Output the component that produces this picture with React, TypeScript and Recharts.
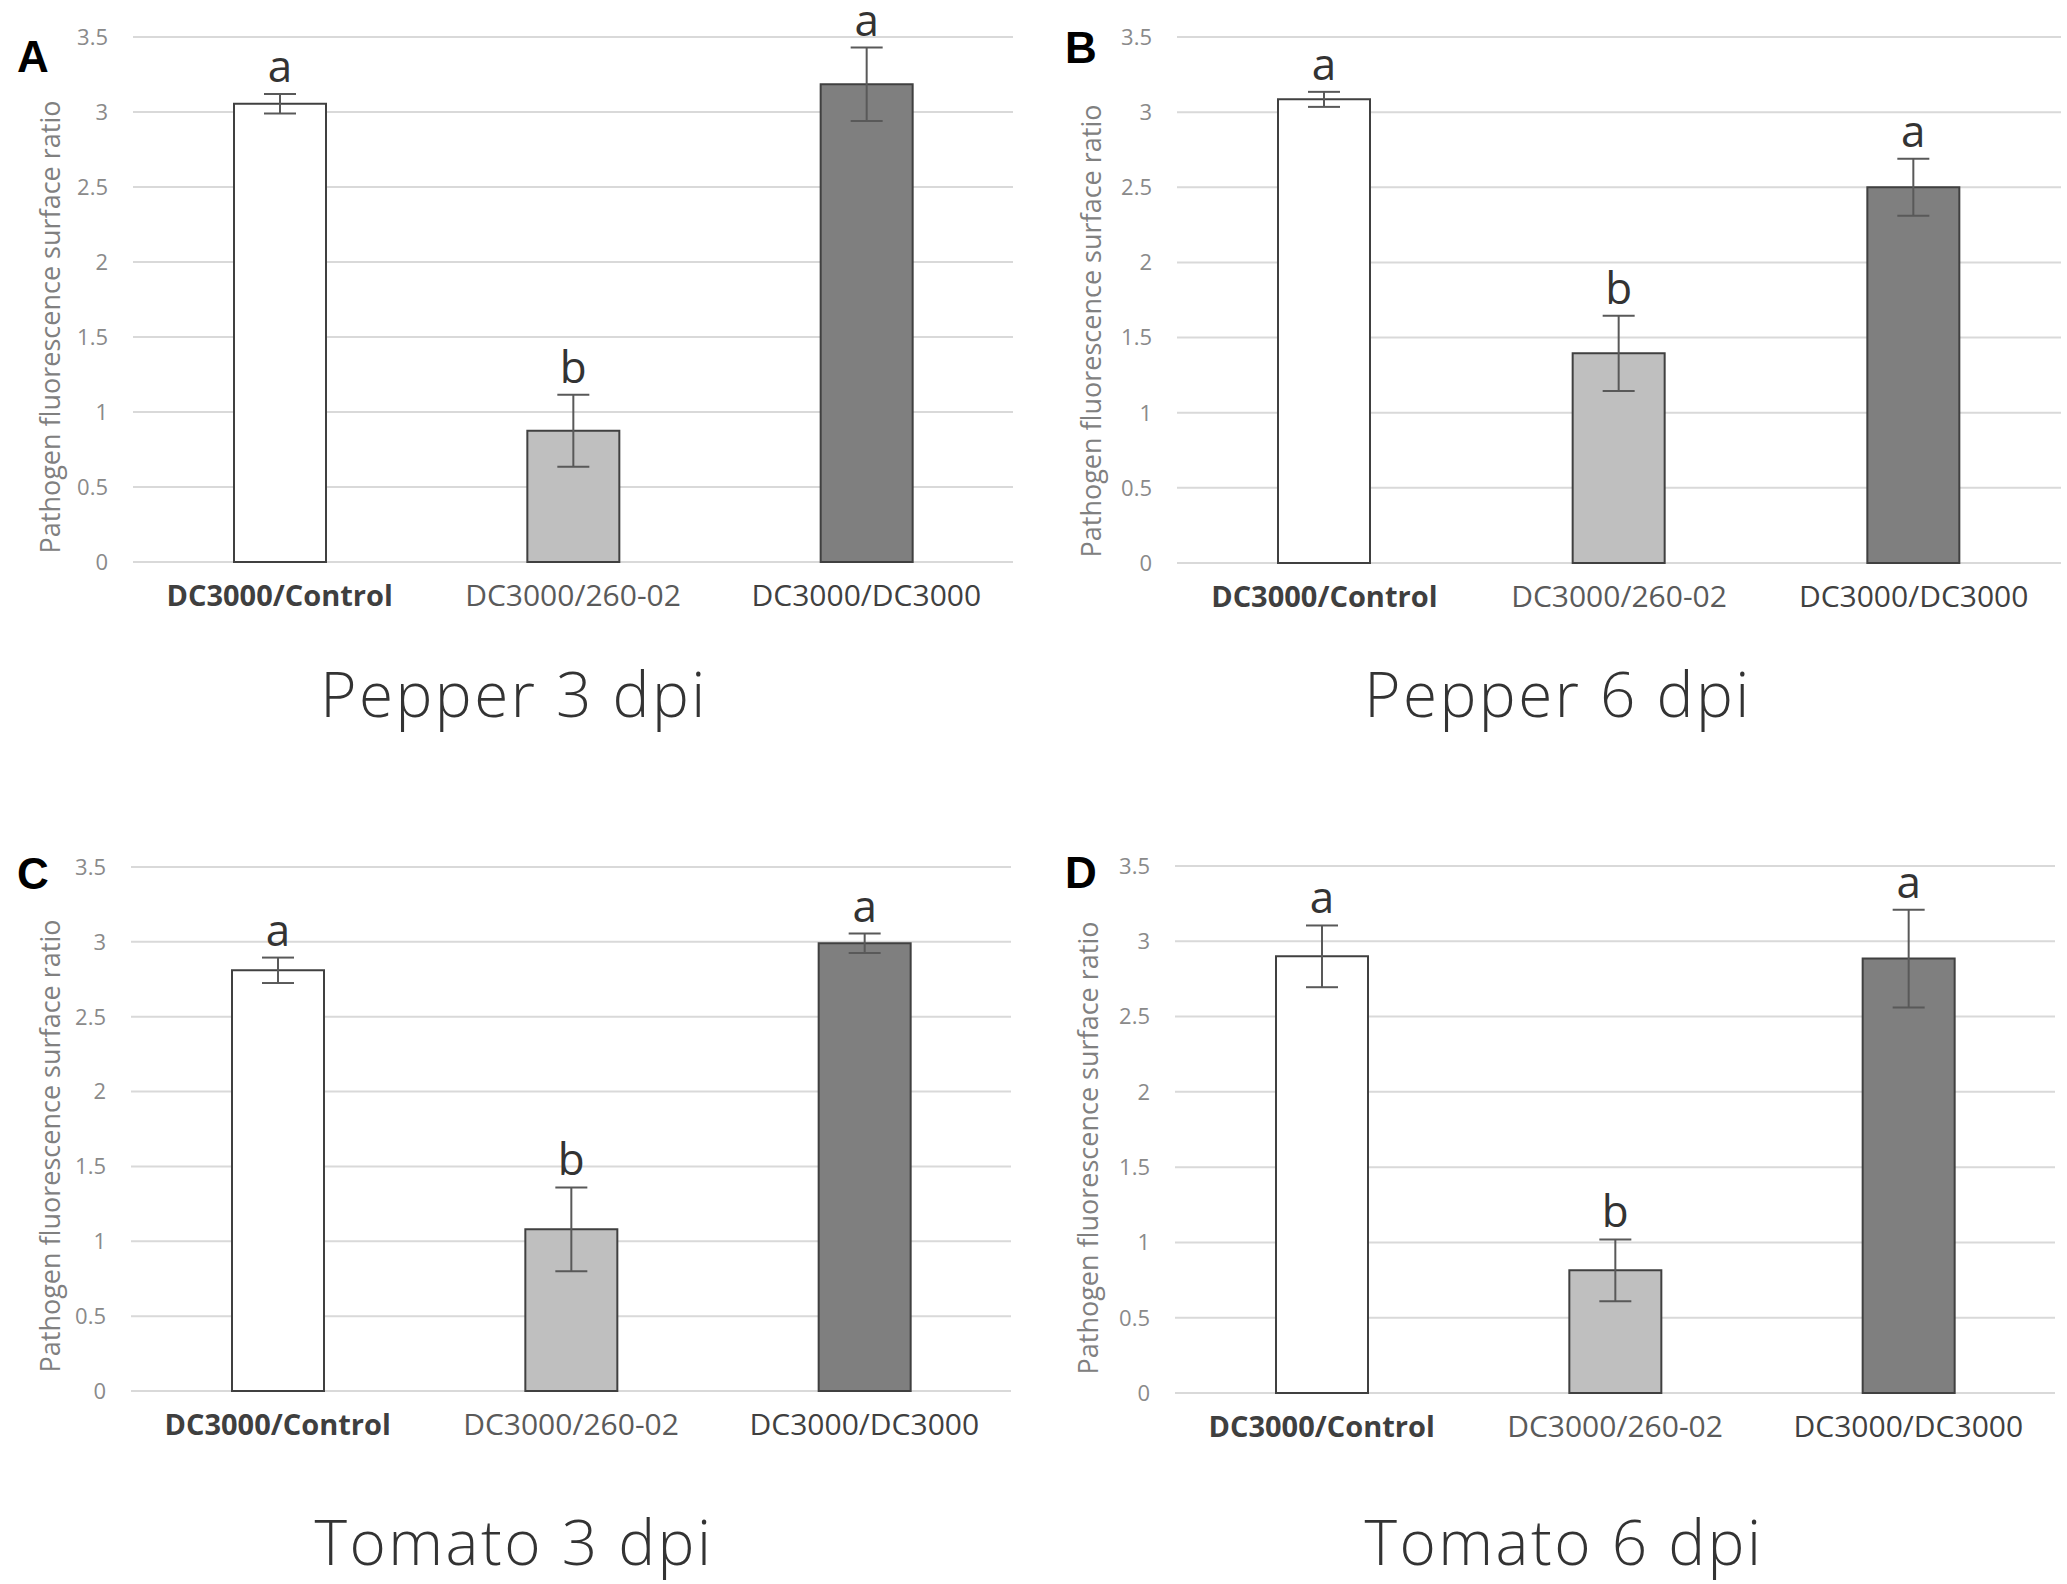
import React from 'react';
import {
  BarChart,
  Bar,
  Cell,
  XAxis,
  YAxis,
  CartesianGrid,
  ErrorBar,
  LabelList,
} from 'recharts';

// data
const categories = ['DC3000/Control', 'DC3000/260-02', 'DC3000/DC3000'];
const yTicks = [0, 0.5, 1, 1.5, 2, 2.5, 3, 3.5];

const pepper3Values = [3.055, 0.875, 3.185];
const pepper3Errors = [0.065, 0.24, 0.245];
const pepper6Values = [3.085, 1.395, 2.5];
const pepper6Errors = [0.05, 0.25, 0.19];
const tomato3Values = [2.81, 1.08, 2.99];
const tomato3Errors = [0.085, 0.28, 0.065];
const tomato6Values = [2.9, 0.815, 2.885];
const tomato6Errors = [0.205, 0.205, 0.325];

const significance = ['a', 'b', 'a'];
const panelLetters = ['A', 'B', 'C', 'D'];
const panelTitles = ['Pepper 3 dpi', 'Pepper 6 dpi', 'Tomato 3 dpi', 'Tomato 6 dpi'];
const yLabel = 'Pathogen fluorescence surface ratio';

const barFills = ['#ffffff', '#bfbfbf', '#7f7f7f'];
const tickWeights = [700, 400, 400];
const tickColors = ['#3f3f3f', '#5a5a5a', '#404040'];

const PANEL_W = 1034;
const PANEL_H = 792;
const FONT = '"Open Sans", "Noto Sans", sans-serif';

// plot box and text placement per panel (relative to the panel)
const layouts = [
  { left: 0, top: 0, plotLeft: 133, plotRight: 1013, plotTop: 37, plotBottom: 562, yLabelX: 49, yLabelY: 327, letterX: 17, letterY: 72, titleX: 514, titleY: 717 },
  { left: 1034, top: 0, plotLeft: 143, plotRight: 1027, plotTop: 37, plotBottom: 563, yLabelX: 56, yLabelY: 331, letterX: 31, letterY: 63, titleX: 524, titleY: 717 },
  { left: 0, top: 792, plotLeft: 131, plotRight: 1011, plotTop: 75, plotBottom: 599, yLabelX: 49, yLabelY: 354, letterX: 17, letterY: 97, titleX: 514, titleY: 773 },
  { left: 1034, top: 792, plotLeft: 141, plotRight: 1021, plotTop: 74, plotBottom: 601, yLabelX: 53, yLabelY: 356, letterX: 31, letterY: 96, titleX: 530, titleY: 773 },
];

const panelValues = [pepper3Values, pepper6Values, tomato3Values, tomato6Values];
const panelErrors = [pepper3Errors, pepper6Errors, tomato3Errors, tomato6Errors];

function CategoryTick(props: any) {
  const { x, y, payload, index } = props;
  return (
    <text
      x={x}
      y={y}
      dy={44}
      textAnchor="middle"
      fontFamily={FONT}
      fontSize={index === 0 ? 29 : 30}
      fontWeight={tickWeights[index]}
      fill={tickColors[index]}
    >
      {payload.value}
    </text>
  );
}

function Panel({ idx }: { idx: number }) {
  const lay = layouts[idx];
  const values = panelValues[idx];
  const errors = panelErrors[idx];
  const data = categories.map((name, i) => ({
    name,
    value: values[i],
    err: errors[i],
    sig: significance[i],
  }));
  const xAxisHeight = 60;

  const renderSig = (props: any) => {
    const { x, y, width, height, index } = props;
    const perUnit = height / values[index];
    const errTop = y - errors[index] * perUnit;
    return (
      <text
        x={x + width / 2}
        y={errTop - 12}
        textAnchor="middle"
        fontFamily={FONT}
        fontSize={44}
        fill="#333333"
      >
        {significance[index]}
      </text>
    );
  };

  return (
    <div style={{ position: 'absolute', left: lay.left, top: lay.top, width: PANEL_W, height: PANEL_H }}>
      <BarChart
        width={PANEL_W}
        height={PANEL_H}
        data={data}
        margin={{
          top: lay.plotTop,
          right: PANEL_W - lay.plotRight,
          left: 0,
          bottom: PANEL_H - lay.plotBottom - xAxisHeight,
        }}
        barSize={92}
      >
        <CartesianGrid vertical={false} stroke="#d9d9d9" strokeWidth={2} />
        <XAxis
          dataKey="name"
          axisLine={false}
          tickLine={false}
          tickSize={0}
          tickMargin={0}
          height={xAxisHeight}
          interval={0}
          tick={<CategoryTick />}
        />
        <YAxis
          width={lay.plotLeft}
          domain={[0, 3.5]}
          ticks={yTicks}
          axisLine={false}
          tickLine={false}
          tickSize={0}
          tickMargin={25}
          tick={{ fontFamily: FONT, fontSize: 22, fill: '#8a8a8a' }}
        />
        <Bar dataKey="value" stroke="#404040" strokeWidth={2} isAnimationActive={false}>
          {data.map((d, i) => (
            <Cell key={d.name} fill={barFills[i]} />
          ))}
          <ErrorBar
            dataKey="err"
            direction="y"
            width={16}
            stroke="#595959"
            strokeWidth={2}
            isAnimationActive={false}
          />
          <LabelList dataKey="sig" content={renderSig} />
        </Bar>
      </BarChart>
    </div>
  );
}

export default function App() {
  return (
    <div style={{ position: 'relative', width: 2067, height: 1584, background: '#ffffff', overflow: 'hidden' }}>
      <style>{'body { margin: 0; }'}</style>
      {layouts.map((_, i) => (
        <Panel key={i} idx={i} />
      ))}
      <svg
        width={2067}
        height={1584}
        style={{ position: 'absolute', left: 0, top: 0, pointerEvents: 'none' }}
      >
        {layouts.map((lay, i) => (
          <g key={i} transform={`translate(${lay.left},${lay.top})`}>
            <text
              x={lay.letterX}
              y={lay.letterY}
              fontFamily='"Liberation Sans", Arial, sans-serif'
              fontWeight={700}
              fontSize={44}
              fill="#000000"
            >
              {panelLetters[i]}
            </text>
            <text
              transform={`translate(${lay.yLabelX},${lay.yLabelY}) rotate(-90)`}
              textAnchor="middle"
              dominantBaseline="central"
              fontFamily={FONT}
              fontSize={27}
              fill="#808080"
            >
              {yLabel}
            </text>
            <text
              x={lay.titleX}
              y={lay.titleY}
              textAnchor="middle"
              fontFamily={FONT}
              fontSize={62}
              fontWeight={300}
              letterSpacing={2.5}
              fill="#333333"
            >
              {panelTitles[i]}
            </text>
          </g>
        ))}
      </svg>
    </div>
  );
}
